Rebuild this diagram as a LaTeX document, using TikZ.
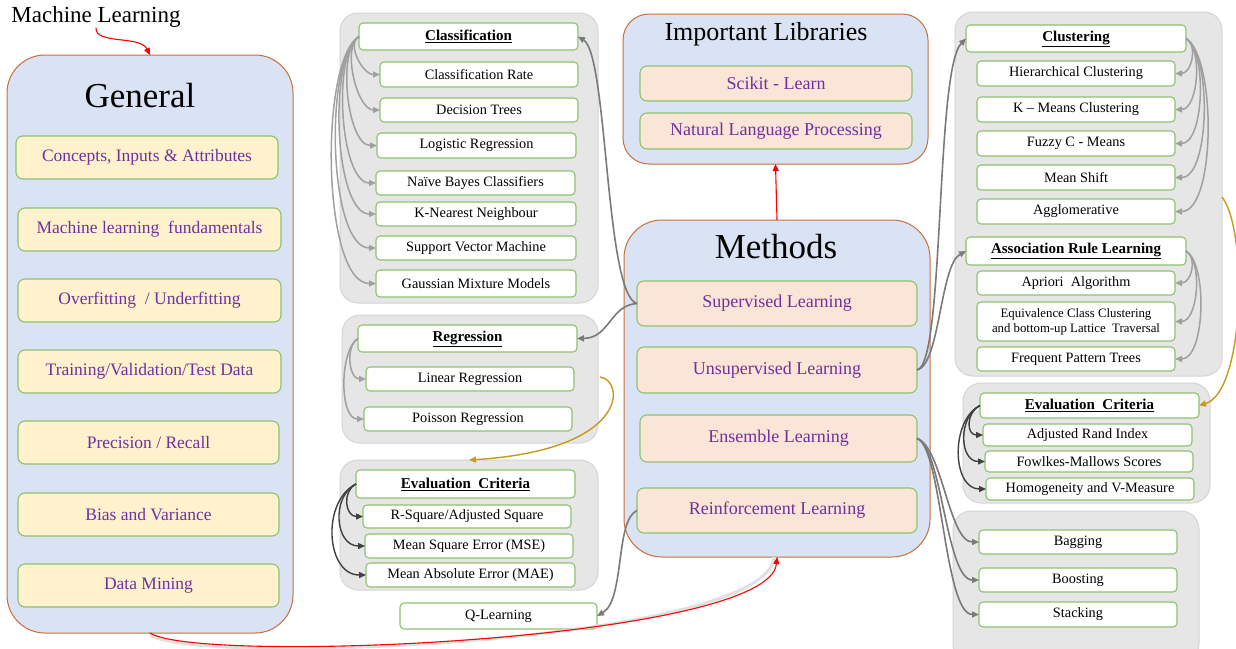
\documentclass[tikz,border=0pt]{standalone}
\usepackage{fontspec}
\setmainfont{Liberation Serif}
\usetikzlibrary{arrows.meta}
\definecolor{bigfill}{HTML}{DAE3F3}
\definecolor{bigborder}{HTML}{C8703A}
\definecolor{grpfill}{HTML}{E7E6E6}
\definecolor{grpborder}{HTML}{D6D4D4}
\definecolor{itemborder}{HTML}{8DC26F}
\definecolor{yel}{HTML}{FFF2CC}
\definecolor{peach}{HTML}{FBE5D6}
\definecolor{purp}{HTML}{7030A0}
\definecolor{arrgray}{HTML}{7A7A7A}
\definecolor{arrlight}{HTML}{A0A0A0}
\definecolor{arrdark}{HTML}{404040}
\definecolor{gold}{HTML}{C49A1C}
\newcommand\mybox[7]{%
 \pgfmathsetmacro\bxcx{(#2+#4)/2}%
 \pgfmathsetmacro\bxcy{(#3+#5)/2}%
 \pgfmathsetmacro\bxw{#4-#2}%
 \pgfmathsetmacro\bxh{#5-#3}%
 \node[#6, minimum width=\bxw pt, minimum height=\bxh pt] (#1) at (\bxcx,\bxcy) {#7};}
\begin{document}
\begin{tikzpicture}[x=1pt,y=-1pt,
  bigbox/.style={draw=bigborder, fill=bigfill, line width=1pt, rounded corners=38pt, inner sep=0pt, outer sep=0pt},
  grp/.style={draw=grpborder, fill=grpfill, line width=1pt, rounded corners=18pt, inner sep=0pt, outer sep=0pt},
  yitem/.style={draw=itemborder, fill=yel, rounded corners=7pt, line width=1.1pt, text=purp, font=\fontsize{17.5}{20}\selectfont, inner sep=0pt, outer sep=0pt},
  pitem/.style={yitem, fill=peach, font=\fontsize{18}{21}\selectfont},
  witem/.style={draw=itemborder, fill=white, rounded corners=4pt, line width=1.1pt, font=\fontsize{14.3}{16}\selectfont, inner sep=0pt, outer sep=0pt},
  hdr/.style={witem, font=\bfseries\fontsize{15}{17}\selectfont},
  title/.style={inner sep=0pt},
  tip/.style={-{Triangle[length=7pt,width=6pt]}},
  larr/.style={tip, draw=arrlight, line width=1.5pt},
  garr/.style={tip, draw=arrgray, line width=1.6pt},
  darr/.style={tip, draw=arrdark, line width=1.4pt},
  rarr/.style={tip, draw=red, line width=1.1pt},
  oarr/.style={tip, draw=gold, line width=1.4pt}
]
\useasboundingbox (0,0) rectangle (1236,648);
\fill[white] (0,0) rectangle (1236,648);

% ---------- groups ----------
\mybox{clsgrp}{340}{13}{598}{303}{grp}{}
\mybox{reggrp}{342}{315}{598}{443}{grp}{}
\mybox{evlgrp}{340}{460}{598}{590}{grp}{}
\mybox{clugrp}{955}{12}{1222}{376}{grp}{}
\mybox{evrgrp}{963}{383}{1210}{503}{grp}{}
\mybox{ensgrp}{953}{511}{1199}{662}{grp}{}

% ---------- big boxes ----------
\mybox{gen}{7}{55}{293}{633}{bigbox}{}
\mybox{lib}{623}{14}{928}{164}{bigbox, rounded corners=26pt}{}
\mybox{meth}{624}{220}{930}{557}{bigbox}{}

\node[title, font=\fontsize{23}{26}\selectfont] (mltitle) at (96,17) {Machine Learning};
\node[title, font=\fontsize{35}{40}\selectfont] (gentitle) at (140,96) {General};
\node[title, font=\fontsize{26}{30}\selectfont] (libtitle) at (766,34) {Important Libraries};
\node[title, font=\fontsize{35}{40}\selectfont] (methtitle) at (776,247) {Methods};

% ---------- General items ----------
\mybox{g1}{16}{136}{278}{179}{yitem}{Concepts, Inputs \& Attributes}
\mybox{g2}{18}{208}{281}{251}{yitem}{Machine learning\ \ fundamentals}
\mybox{g3}{18}{279}{281}{322}{yitem}{Overfitting\ \ /\ Underfitting}
\mybox{g4}{18}{350}{281}{393}{yitem}{Training/Validation/Test Data}
\mybox{g5}{18}{421}{279}{464}{yitem}{Precision / Recall}
\mybox{g6}{18}{493}{279}{536}{yitem}{Bias and Variance}
\mybox{g7}{18}{564}{279}{607}{yitem}{Data Mining}

% ---------- Libraries & Methods ----------
\mybox{sk}{640}{66}{912}{101}{pitem}{Scikit - Learn}
\mybox{nlp}{640}{113}{912}{149}{pitem}{Natural\ Language\ Processing}
\mybox{sup}{637}{281}{917}{326}{pitem}{Supervised Learning}
\mybox{uns}{637}{347}{917}{393}{pitem}{Unsupervised Learning}
\mybox{ens}{640}{415}{917}{462}{pitem}{Ensemble Learning}
\mybox{rei}{637}{488}{917}{533}{pitem}{Reinforcement\ Learning}

% ---------- Classification ----------
\mybox{cls}{359}{23}{578}{50}{hdr}{\underline{Classification}}
\mybox{cr}{380}{62}{578}{87}{witem}{Classification\ Rate}
\mybox{dt}{380}{98}{578}{122}{witem}{Decision Trees}
\mybox{lr}{377}{133}{576}{158}{witem}{Logistic\ Regression}
\mybox{nb}{376}{171}{575}{195}{witem}{Naïve Bayes Classifiers}
\mybox{knn}{376}{202}{576}{226}{witem}{K-Nearest Neighbour}
\mybox{svm}{376}{236}{576}{260}{witem}{Support Vector Machine}
\mybox{gmm}{376}{270}{576}{297}{witem}{Gaussian Mixture Models}

% ---------- Regression ----------
\mybox{reg}{358}{325}{577}{352}{hdr}{\underline{Regression}}
\mybox{lin}{366}{367}{574}{391}{witem}{Linear Regression}
\mybox{poi}{364}{407}{572}{431}{witem}{Poisson Regression}

% ---------- Evaluation left ----------
\mybox{evl}{356}{470}{575}{498}{hdr}{\underline{Evaluation\ \ Criteria}}
\mybox{rsq}{363}{505}{571}{528}{witem}{R-Square/Adjusted Square}
\mybox{mse}{365}{534}{573}{558}{witem}{Mean Square Error (MSE)}
\mybox{mae}{366}{563}{575}{587}{witem}{Mean Absolute Error (MAE)}
\mybox{ql}{400}{603}{597}{629}{witem}{Q-Learning}

% ---------- Clustering ----------
\mybox{clu}{966}{25}{1186}{52}{hdr}{\underline{Clustering}}
\mybox{hc}{977}{61}{1175}{86}{witem}{Hierarchical Clustering}
\mybox{km}{977}{97}{1175}{122}{witem}{K -- Means Clustering}
\mybox{fz}{977}{131}{1175}{156}{witem}{Fuzzy\ C - Means}
\mybox{ms}{977}{165}{1175}{190}{witem}{Mean Shift}
\mybox{ag}{977}{199}{1175}{224}{witem}{Agglomerative}
\mybox{asr}{966}{237}{1186}{265}{hdr}{\underline{Association Rule Learning}}
\mybox{ap}{977}{271}{1175}{295}{witem}{Apriori\ \ Algorithm}
\mybox{eq}{977}{302}{1175}{341}{witem, align=center, font=\fontsize{12.8}{15}\selectfont}{Equivalence Class Clustering\\and bottom-up Lattice\ \ Traversal}
\mybox{fp}{977}{347}{1175}{371}{witem}{Frequent Pattern Trees}

% ---------- Evaluation right ----------
\mybox{evr}{980}{393}{1199}{418}{hdr}{\underline{Evaluation\ \ Criteria}}
\mybox{ari}{983}{424}{1192}{446}{witem}{Adjusted Rand Index}
\mybox{fm}{985}{451}{1193}{472}{witem}{Fowlkes-Mallows Scores}
\mybox{hv}{986}{478}{1194}{500}{witem}{Homogeneity and V-Measure}

% ---------- Ensemble ----------
\mybox{bag}{979}{530}{1177}{554}{witem}{Bagging}
\mybox{boo}{979}{568}{1177}{592}{witem}{Boosting}
\mybox{sta}{979}{602}{1177}{627}{witem}{Stacking}

% ---------- internal arrows ----------
\foreach \n/\a/\b in {cr/13/17, dt/17.5/23, lr/22/30, nb/27/36, knn/31/42, svm/35/48, gmm/40/54}
  \draw[larr] (cls.west) .. controls +(-\a,0.6*\a) and +(-\b,0) .. (\n.west);
\foreach \n/\a/\b in {lin/13/17, poi/18.5/25}
  \draw[larr] (reg.west) .. controls +(-\a,0.6*\a) and +(-\b,0) .. (\n.west);
\foreach \n/\a/\b in {rsq/14/18, mse/25/30, mae/35/40}
  \draw[darr] (evl.west) .. controls +(-\a,0.5*\a) and +(-\b,0) .. (\n.west);
\foreach \n/\a/\b in {hc/12.5/16, km/17/23, fz/21.5/29, ms/26/35, ag/30.5/41}
  \draw[larr] (clu.east) .. controls +(\a,0.6*\a) and +(\b,0) .. (\n.east);
\foreach \n/\a/\b in {ap/12/16, eq/17/23, fp/22/30}
  \draw[larr] (asr.east) .. controls +(\a,0.6*\a) and +(\b,0) .. (\n.east);
\foreach \n/\a/\b in {ari/14/17, fm/22/26, hv/30/34}
  \draw[darr] (evr.west) .. controls +(-\a,0.5*\a) and +(-\b,0) .. (\n.west);

% ---------- method arrows ----------
\draw[garr] (sup.west) .. controls (605,295) and (608,55) .. (cls.east);
\draw[garr] (sup.west) .. controls (610,305) and (610,338) .. (reg.east);
\draw[garr] (rei.west) .. controls (615,520) and (625,600) .. (ql.east);
\draw[garr] (uns.east) .. controls (945,365) and (935,70) .. (clu.west);
\draw[garr] (uns.east) .. controls (940,365) and (940,265) .. (asr.west);
\draw[garr] (ens.east) .. controls +(25,8) and +(-30,0) .. (bag.west);
\draw[garr] (ens.east) .. controls +(25,8) and +(-33,0) .. (boo.west);
\draw[garr] (ens.east) .. controls +(25,8) and +(-35,0) .. (sta.west);

% ---------- gold arrows ----------
\coordinate (golds) at (600,377);
\draw[oarr] (golds) .. controls (625,380) and (630,450) .. (evlgrp.north);
\coordinate (goldr) at (1222,197);
\draw[oarr] (goldr) .. controls (1248,230) and (1245,392) .. (evr.east);

% ---------- red arrows ----------
\draw[rarr] (mltitle.south) .. controls (95,45) and (140,35) .. (gen.north);
\draw[rarr] (meth.north) -- (lib.south);
\draw[black!12, line width=3pt] ([yshift=-2pt]gen.south) .. controls (200,667) and (770,642) .. ([xshift=-3pt]meth.south);
\draw[rarr] (gen.south) .. controls (200,665) and (770,640) .. (meth.south);
\end{tikzpicture}
\end{document}
